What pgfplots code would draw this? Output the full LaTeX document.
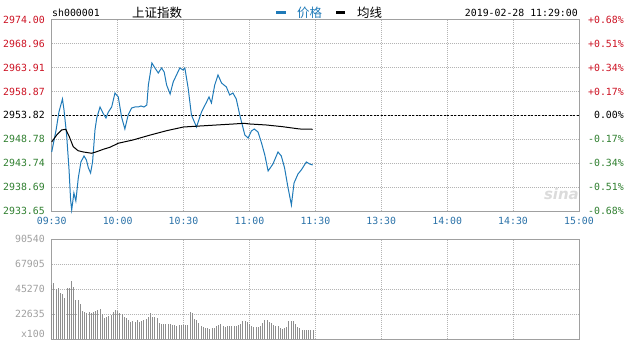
\documentclass[border=0pt]{standalone}
\usepackage{fontspec}
\usepackage{pgfplots}
\usepackage{pgfplotstable}
\pgfplotsset{compat=1.18}
\setmainfont{DejaVu Sans Mono}
\newfontfamily\cjk{Noto Sans CJK SC}
\newfontfamily\sinafont{DejaVu Sans}
\definecolor{redc}{HTML}{CC1122}
\definecolor{greenc}{HTML}{2F7F2F}
\definecolor{timec}{HTML}{2B72A8}
\definecolor{pricec}{HTML}{1F7AB8}
\definecolor{volc}{HTML}{A0A0A0}
\definecolor{framec}{HTML}{A0A0A0}
\definecolor{gridc}{HTML}{B4B4B4}
\definecolor{barc}{HTML}{8E8E8E}

\pgfplotstableread{
t p
0 2946.10
2 2950.74
3.3 2954.54
4.9 2957.28
5.6 2954.96
6.8 2949.69
7.9 2942.31
8.6 2935.98
9.1 2933.87
10.1 2937.45
11.0 2935.77
12.1 2940.62
13.3 2943.99
14.7 2945.26
15.8 2944.41
16.7 2942.73
17.7 2941.67
18.6 2943.99
19.7 2950.74
20.5 2953.27
22.0 2955.59
23.3 2954.33
24.7 2953.27
25.8 2954.54
27.3 2955.59
28.8 2958.54
30.3 2957.70
31.8 2953.48
33.3 2950.95
34.8 2953.90
36.4 2955.38
37.9 2955.59
39.4 2955.59
40.6 2955.80
42.0 2955.59
43.3 2956.01
44.0 2960.23
45.6 2964.87
47.0 2963.82
48.5 2962.76
50.0 2963.82
51.2 2962.97
52.3 2960.23
53.9 2958.33
55.3 2960.86
56.8 2962.34
58.3 2963.82
59.8 2963.39
60.6 2963.82
62.1 2959.60
63.6 2953.90
65.9 2951.37
68.2 2954.54
70.5 2956.65
71.6 2957.70
72.7 2956.44
74.2 2960.23
75.7 2962.34
77.3 2960.65
79.5 2959.81
81.0 2958.12
82.5 2958.54
84.0 2957.28
85.6 2953.90
87.9 2949.69
89.4 2949.05
90.9 2950.53
92.2 2950.95
93.9 2950.32
95.5 2948.00
97.0 2945.47
98.5 2942.09
100.7 2943.57
103.0 2946.10
104.5 2945.26
106.0 2942.73
107.5 2938.72
109.1 2934.92
110.3 2939.56
112.1 2941.46
113.6 2942.31
115.9 2943.99
117.4 2943.57
118.8 2943.36
}\pricetable

\pgfplotstableread{
t a
0 2948.21
2.3 2949.69
4.5 2950.74
6.4 2950.89
8.0 2949.33
9.8 2947.22
12.0 2946.37
14.4 2946.10
18.2 2945.83
20.5 2946.16
23.5 2946.67
26.5 2947.09
30.3 2947.94
37.0 2948.63
45.0 2949.69
52.3 2950.59
60.0 2951.37
67.5 2951.58
75.0 2951.79
83.0 2952.01
87.5 2952.15
90.0 2952.01
97.7 2951.79
105.0 2951.44
112.8 2950.95
118.8 2950.89
}\avgtable

\pgfplotstableread{
t v
0 49000
1 50850
2 45400
3 46300
4 41770
5 40860
6 37230
7 46300
8 46300
9 52300
10 47200
11 35050
12 35000
13 32050
14 25060
15 24300
16 24000
17 24300
18 23880
19 24200
20 25700
21 25900
22 27500
23 23000
24 19070
25 19700
26 20500
27 22060
28 24200
29 26600
30 25060
31 23880
32 23000
33 19700
34 19100
35 16900
36 15100
37 16000
38 15100
39 16900
40 15700
41 16000
42 17500
43 18100
44 19700
45 23880
46 19700
47 19700
48 18800
49 14500
50 13600
51 13900
52 13900
53 13500
54 13300
55 12700
56 12400
57 12100
58 13000
59 12400
60 13000
61 13000
62 13000
63 24500
64 23880
65 18100
66 16900
67 14500
68 12100
69 10600
70 10000
71 10000
72 9400
73 9700
74 10300
75 11500
76 13000
77 13600
78 11500
79 10600
80 12100
81 11500
82 11500
83 11500
84 11500
85 13000
86 13900
87 16600
88 16000
89 15400
90 13900
91 12100
92 10600
93 10600
94 10500
95 12000
96 14500
97 17200
98 16900
99 15700
100 14500
101 13000
102 12100
103 11500
104 10000
105 9100
106 9700
107 10900
108 16600
109 16600
110 16600
111 13600
112 10900
113 10000
114 7800
115 7800
116 7800
117 7800
118 7800
119 7800
}\voltable

\begin{document}
\begin{tikzpicture}
\path[use as bounding box] (0bp,0bp) rectangle (626bp,-341bp);
\pgfplotsset{
  every axis/.append style={
    scale only axis, width=527.3bp,
    xmin=0, xmax=240, xtick={0,30,...,240},
    grid=major,
    major grid style={gridc, dash pattern=on 1bp off 1bp, line width=0.8bp},
    axis line style={framec, line width=1bp},
    major tick length=0pt,
    tick label style={font=\fontsize{9.9}{10}\selectfont},
    clip=false,
  }
}
\begin{axis}[
  at={(51.7bp,-19.7bp)}, anchor=north west, height=191.3bp,
  ymin=2933.65, ymax=2974.00,
  ytick={2933.65,2938.69,2943.74,2948.78,2953.82,2958.87,2963.91,2968.96,2974.00},
  yticklabels={\textcolor{greenc}{2933.65},\textcolor{greenc}{2938.69},\textcolor{greenc}{2943.74},\textcolor{greenc}{2948.78},2953.82,\textcolor{redc}{2958.87},\textcolor{redc}{2963.91},\textcolor{redc}{2968.96},\textcolor{redc}{2974.00}},
  xticklabels={09:30,10:00,10:30,11:00,11:30,13:30,14:00,14:30,15:00},
  xticklabel style={text=timec, yshift=-3bp},
  yticklabel style={xshift=-3.4bp},
]
\draw[black, line width=0.9bp, dash pattern=on 2bp off 1.5bp] (axis cs:0,2953.82) -- (axis cs:240,2953.82);
\node[text=gray!28, font=\sinafont\bfseries\itshape\fontsize{15}{15}\selectfont] at (axis cs:232,2937.2) {sina};
\addplot[pricec, line width=1bp] table[x=t, y=p] {\pricetable};
\addplot[black, line width=1bp] table[x=t, y=a] {\avgtable};
\foreach \v/\lab/\c in {2974.00/+0.68\%/redc, 2968.96/+0.51\%/redc, 2963.91/+0.34\%/redc, 2958.87/+0.17\%/redc, 2953.82/0.00\%/black, 2948.78/-0.17\%/greenc, 2943.74/-0.34\%/greenc, 2938.69/-0.51\%/greenc, 2933.65/-0.68\%/greenc}{
  \edef\tmp{\noexpand\node[anchor=east, inner sep=0pt, xshift=45bp, text=\c, font=\noexpand\fontsize{9.9}{10}\noexpand\selectfont] at (axis cs:240,\v) {\lab};}
  \tmp
}
\end{axis}

\begin{axis}[
  at={(51.7bp,-239.3bp)}, anchor=north west, height=99.7bp,
  ymin=0, ymax=90540,
  ytick={0,22635,45270,67905,90540},
  yticklabels={,22635,45270,67905,90540},
  scaled y ticks=false,
  xticklabels={},
  yticklabel style={text=volc, xshift=-3.4bp},
]
\addplot[ycomb, barc, line width=1bp] table[x=t, y=v] {\voltable};
\node[anchor=south east, inner sep=0pt, text=volc, font=\fontsize{9.9}{10}\selectfont, xshift=-6.7bp, yshift=1.5bp] at (axis cs:0,0) {x100};
\end{axis}

\node[anchor=west, inner sep=0pt, font=\fontsize{9.9}{10}\selectfont] at (52bp,-12.5bp) {sh000001};
\node[anchor=west, inner sep=0pt, font=\cjk\fontsize{12.5}{13}\selectfont] at (132bp,-12.5bp) {上证指数};
\draw[pricec, line width=3bp] (276bp,-12.5bp) -- (286bp,-12.5bp);
\node[anchor=west, inner sep=0pt, text=pricec, font=\cjk\fontsize{12.5}{13}\selectfont] at (297bp,-12.5bp) {价格};
\draw[black, line width=3bp] (336bp,-12.5bp) -- (345bp,-12.5bp);
\node[anchor=west, inner sep=0pt, font=\cjk\fontsize{12.5}{13}\selectfont] at (357bp,-12.5bp) {均线};
\node[anchor=east, inner sep=0pt, font=\fontsize{9.9}{10}\selectfont] at (578bp,-12.5bp) {2019-02-28 11:29:00};
\end{tikzpicture}
\end{document}
